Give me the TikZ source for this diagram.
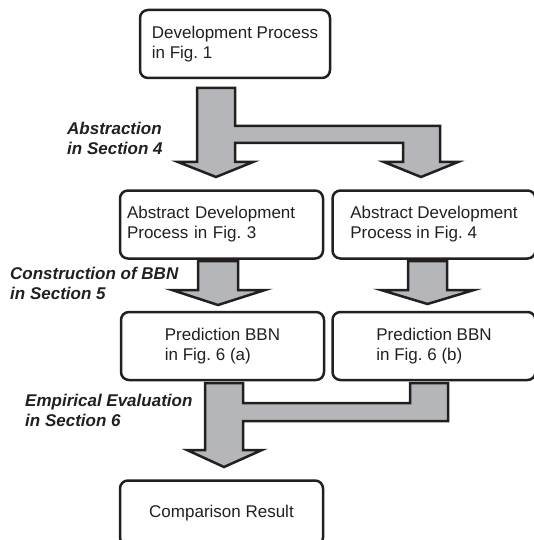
\documentclass[tikz,border=0pt]{standalone}
\usepackage{fontspec}
\setmainfont{Liberation Sans}
\usetikzlibrary{positioning}
\definecolor{mgray}{HTML}{B4B6B9}
\definecolor{mink}{HTML}{231F20}
\frenchspacing
\tikzstyle{stage} = [rectangle, draw=mink, line width=2.5pt, rounded corners=8pt, minimum width=203pt, minimum height=68pt, align=left, text=mink, font=\fontsize{17}{20}\selectfont]
\tikzstyle{step note} = [anchor=west, inner sep=0pt, align=left, text=mink, font=\fontsize{17}{20}\selectfont\bfseries\itshape]
\tikzstyle{flow} = [draw=mink, line width=2.5pt, fill=mgray, line join=miter]

\begin{document}
\begin{tikzpicture}[x=1pt, y=-1pt, node distance=7pt]
  \useasboundingbox (0,0) rectangle (534,540);
  % boxes
  \node (dev) [stage, minimum width=190pt] at (235,44) {Development Process\\in Fig. 1};
  \node (absl) [stage, below = 110pt of dev, xshift = -13.5pt, text width=189pt] {Abstract Development\\Process in Fig. 3};
  \node (absr) [stage, right = of absl] {Abstract Development\\Process in Fig. 4};
  \node (bbnl) [stage, below = 51pt of absl, xshift = 1pt] {Prediction BBN\\in Fig. 6 (a)};
  \node (bbnr) [stage, below = 51pt of absr] {Prediction BBN\\in Fig. 6 (b)};
  \node (res) [stage, below = 98pt of bbnl, xshift = -1pt, minimum height=65pt] {Comparison Result};
  % labels
  \node (abstr) [step note] at (67,138) {Abstraction\\in Section 4};
  \node (constr) [step note] at (10,283) {Construction of BBN\\in Section 5};
  \node (empir) [step note] at (25,410) {Empirical Evaluation\\in Section 6};
  % block arrows
  \draw [flow] (197,88) -- (235,88) -- (235,126) -- (440,126) -- (440,162) -- (458,162)
    -- (421,177) -- (384,162) -- (403,162) -- (403,143) -- (235,143) -- (235,162)
    -- (253,162) -- (216,177) -- (178,162) -- (197,162) -- cycle;
  \draw [flow] (198,261) -- (238,261) -- (238,290) -- (265,290) -- (218,305)
    -- (172,290) -- (198,290) -- cycle;
  \draw [flow] (408,261) -- (447,261) -- (447,290) -- (474,290) -- (427.5,304)
    -- (381,290) -- (408,290) -- cycle;
  \draw [flow] (205,383) -- (243,383) -- (243,403) -- (410,403) -- (410,383) -- (448,383)
    -- (448,421) -- (243,421) -- (243,450) -- (262,450) -- (224,467) -- (187,450)
    -- (205,450) -- cycle;
\end{tikzpicture}
\end{document}
